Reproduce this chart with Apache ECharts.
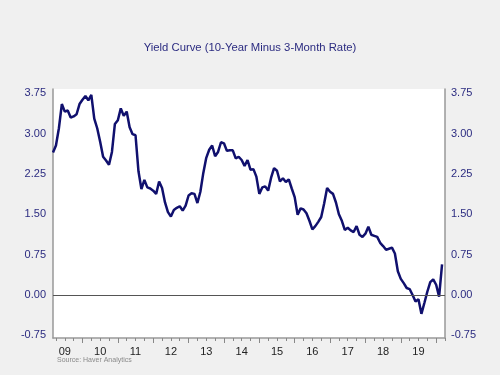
<!DOCTYPE html>
<html>
<head>
<meta charset="utf-8">
<script src="https://cdn.jsdelivr.net/npm/echarts@6/dist/echarts.min.js"></script>
<style>
  html, body { margin: 0; padding: 0; background: #f0f0f0; }
  #chart { width: 500px; height: 375px; }
</style>
</head>
<body>
<div id="chart"></div>
<script>
// monthly spread, 10-year minus 3-month (percent); 2009 starts in March
var years = [2009, 2010, 2011, 2012, 2013, 2014, 2015, 2016, 2017, 2018, 2019, 2020];
var spread2009 = [2.65, 2.78, 3.10, 3.55, 3.41, 3.43, 3.30, 3.32, 3.36, 3.55];
var spread2010 = [3.63, 3.70, 3.62, 3.72, 3.28, 3.10, 2.85, 2.57, 2.50, 2.42, 2.66, 3.18];
var spread2011 = [3.25, 3.47, 3.33, 3.41, 3.12, 2.99, 2.97, 2.30, 1.97, 2.14, 2.00, 1.98];
var spread2012 = [1.94, 1.88, 2.11, 1.99, 1.72, 1.54, 1.46, 1.58, 1.62, 1.65, 1.57, 1.66];
var spread2013 = [1.85, 1.89, 1.88, 1.71, 1.92, 2.27, 2.55, 2.70, 2.78, 2.58, 2.66, 2.84];
var spread2014 = [2.82, 2.68, 2.69, 2.69, 2.54, 2.57, 2.51, 2.40, 2.51, 2.33, 2.34, 2.20];
var spread2015 = [1.88, 2.00, 2.02, 1.94, 2.18, 2.36, 2.31, 2.11, 2.17, 2.10, 2.15, 1.98];
var spread2016 = [1.82, 1.49, 1.61, 1.59, 1.52, 1.38, 1.22, 1.28, 1.36, 1.45, 1.70, 1.99];
var spread2017 = [1.92, 1.88, 1.72, 1.50, 1.38, 1.21, 1.25, 1.20, 1.17, 1.28, 1.12, 1.08];
var spread2018 = [1.14, 1.27, 1.12, 1.10, 1.08, 0.97, 0.91, 0.84, 0.86, 0.88, 0.77, 0.44];
var spread2019 = [0.30, 0.22, 0.13, 0.11, 0.00, -0.12, -0.08, -0.35, -0.15, 0.06, 0.24, 0.29];
var spread2020 = [0.19, -0.03, 0.57];
var spreads = [spread2009, spread2010, spread2011, spread2012, spread2013, spread2014,
               spread2015, spread2016, spread2017, spread2018, spread2019, spread2020];

var yTicks = [-0.75, 0, 0.75, 1.5, 2.25, 3, 3.75];
var yearLabels = [2009.5, 2010.5, 2011.5, 2012.5, 2013.5, 2014.5, 2015.5, 2016.5, 2017.5, 2018.5, 2019.5];
var yearTicks = [2010, 2011, 2012, 2013, 2014, 2015, 2016, 2017, 2018, 2019, 2020];

var points = [];
years.forEach(function (y, i) {
	var start = i === 0 ? 2 : 0;
	spreads[i].forEach(function (v, j) {
		points.push([y + (start + j) / 12, v]);
	});
});

var quarterTicks = [];
for (var q = 2009.25; q <= 2020.25; q += 0.25) {
	quarterTicks.push(q);
}

var xMin = 2009 + 2 / 12;
var xMax = 2020.25;
var navy = '#2b2b80';

var myChart = echarts.init(document.getElementById('chart'));
var option = {
	backgroundColor: '#f0f0f0',
	animation: false,
	title: {
		text: 'Yield Curve (10-Year Minus 3-Month Rate)',
		left: 'center',
		top: 37,
		textStyle: { color: navy, fontSize: 11.3, fontWeight: 'normal', fontFamily: 'Liberation Sans, Arial, sans-serif' }
	},
	graphic: [{
		type: 'text',
		left: 57,
		top: 357,
		style: { text: 'Source: Haver Analytics', fill: '#8a8a8a', fontSize: 7, fontFamily: 'Liberation Sans, Arial, sans-serif' }
	}],
	grid: {
		left: 53, right: 55, top: 89, bottom: 37,
		show: true, backgroundColor: '#ffffff', borderWidth: 0
	},
	xAxis: [
		{
			type: 'value',
			min: xMin,
			max: xMax,
			position: 'bottom',
			splitLine: { show: false },
			axisLine: { show: true, onZero: false, lineStyle: { color: '#999999', width: 1.5 } },
			axisTick: { show: true, length: 5, customValues: yearTicks, lineStyle: { color: '#888888' } },
			axisLabel: {
				customValues: yearLabels,
				margin: 8,
				color: '#222222',
				fontSize: 11,
				fontFamily: 'Liberation Sans, Arial, sans-serif',
				formatter: function (v) { return String(Math.floor(v)).slice(2); }
			}
		},
		{
			type: 'value',
			min: xMin,
			max: xMax,
			position: 'bottom',
			splitLine: { show: false },
			axisLine: { show: false, onZero: false },
			axisTick: { show: true, length: 3, customValues: quarterTicks, lineStyle: { color: '#888888' } },
			axisLabel: { show: false }
		}
	],
	yAxis: [
		{
			type: 'value',
			min: -0.8,
			max: 3.83,
			position: 'left',
			splitLine: { show: false },
			axisTick: { show: false },
			axisLine: { show: true, onZero: false, lineStyle: { color: '#999999', width: 1.5 } },
			axisLabel: {
				customValues: yTicks, margin: 7, color: navy, fontSize: 11,
				fontFamily: 'Liberation Sans, Arial, sans-serif',
				formatter: function (v) { return v.toFixed(2); }
			}
		},
		{
			type: 'value',
			min: -0.8,
			max: 3.83,
			position: 'right',
			splitLine: { show: false },
			axisTick: { show: false },
			axisLine: { show: true, onZero: false, lineStyle: { color: '#999999', width: 1.5 } },
			axisLabel: {
				customValues: yTicks, margin: 6, color: navy, fontSize: 11,
				fontFamily: 'Liberation Sans, Arial, sans-serif',
				formatter: function (v) { return v.toFixed(2); }
			}
		}
	],
	series: [{
		type: 'line',
		xAxisIndex: 0,
		yAxisIndex: 0,
		data: points,
		showSymbol: false,
		lineStyle: { color: '#10106e', width: 2.5 },
		markLine: {
			silent: true,
			symbol: 'none',
			label: { show: false },
			lineStyle: { color: '#555555', width: 1, type: 'solid' },
			data: [{ yAxis: 0 }]
		}
	}]
};
myChart.setOption(option);
</script>
</body>
</html>
